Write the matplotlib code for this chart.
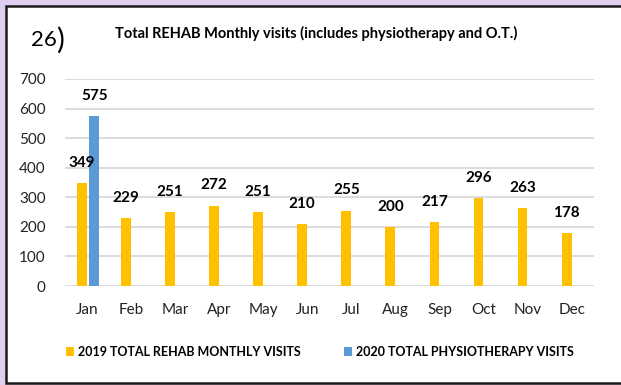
import matplotlib.pyplot as plt
import matplotlib.patches as patches
import numpy as np

# Monthly visit counts
months = ['Jan', 'Feb', 'Mar', 'Apr', 'May', 'Jun', 'Jul', 'Aug', 'Sep', 'Oct', 'Nov', 'Dec']
rehab_2019 = [349, 229, 251, 272, 251, 210, 255, 200, 217, 296, 263, 178]
physio_2020 = [575]  # only January reported so far

label_2019 = '2019 TOTAL REHAB MONTHLY VISITS'
label_2020 = '2020 TOTAL PHYSIOTHERAPY VISITS'
yellow = '#FFC000'
blue = '#5B9BD5'

plt.rcParams['font.family'] = ['Lato', 'DejaVu Sans']

W, H = 621, 385
fig = plt.figure(figsize=(W / 100, H / 100), dpi=100, facecolor='#E0CEEE')


def fx(px):
    return px / W


def fy(py):
    return 1 - py / H


# white panel with dark frame, kept behind the axes
panel = patches.Rectangle((fx(6), fy(383)), fx(640), fy(6) - fy(383),
                          transform=fig.transFigure, facecolor='white',
                          edgecolor='#1a1a1a', linewidth=1.8, zorder=-5)
fig.patches.append(panel)

ax = fig.add_axes([fx(65), fy(286), fx(594) - fx(65), fy(79) - fy(286)])
ax.set_facecolor('none')
ax.set_zorder(2)

x = np.arange(len(months))
w = 0.22
b1 = ax.bar(x - 0.12, rehab_2019, width=w, color=yellow, label=label_2019, zorder=2)
b2 = ax.bar(x[:len(physio_2020)] + 0.165, physio_2020, width=w, color=blue,
            label=label_2020, zorder=2)

for bars in (b1, b2):
    for bar in bars:
        h = bar.get_height()
        ax.annotate(f'{h:.0f}', (bar.get_x() + bar.get_width() / 2, h),
                    xytext=(0, 14.5), textcoords='offset points',
                    ha='center', va='center', fontsize=11, fontweight='bold')

ax.set_xlim(-0.5, len(months) - 0.5)
ax.set_ylim(0, 700)
ax.set_yticks(range(0, 701, 100))
ax.set_xticks(x)
ax.set_xticklabels(months)
ax.grid(axis='y', color='#D9D9D9', linewidth=1.3, zorder=0)
ax.set_axisbelow(True)
for s in ax.spines.values():
    s.set_visible(False)
ax.tick_params(length=0, labelsize=11, colors='#222222')
ax.tick_params(axis='y', pad=14)
ax.tick_params(axis='x', pad=12)

fig.text(fx(31), fy(40), '26', fontsize=16, va='center', ha='left')
fig.text(fx(56), fy(40), ')', fontsize=21, va='center', ha='left')
fig.text(fx(316), fy(33), 'Total REHAB Monthly visits (includes physiotherapy and O.T.)',
         fontsize=10.5, fontweight='bold', ha='center', va='center')

fig.legend(handles=[b1, b2], loc='center', bbox_to_anchor=(fx(320), fy(352)),
           ncol=2, frameon=False, prop={'size': 9, 'weight': 'bold'},
           handlelength=0.65, handleheight=0.65, handletextpad=0.3,
           columnspacing=3.5)

fig.savefig('out.png', dpi=100, facecolor=fig.get_facecolor())
